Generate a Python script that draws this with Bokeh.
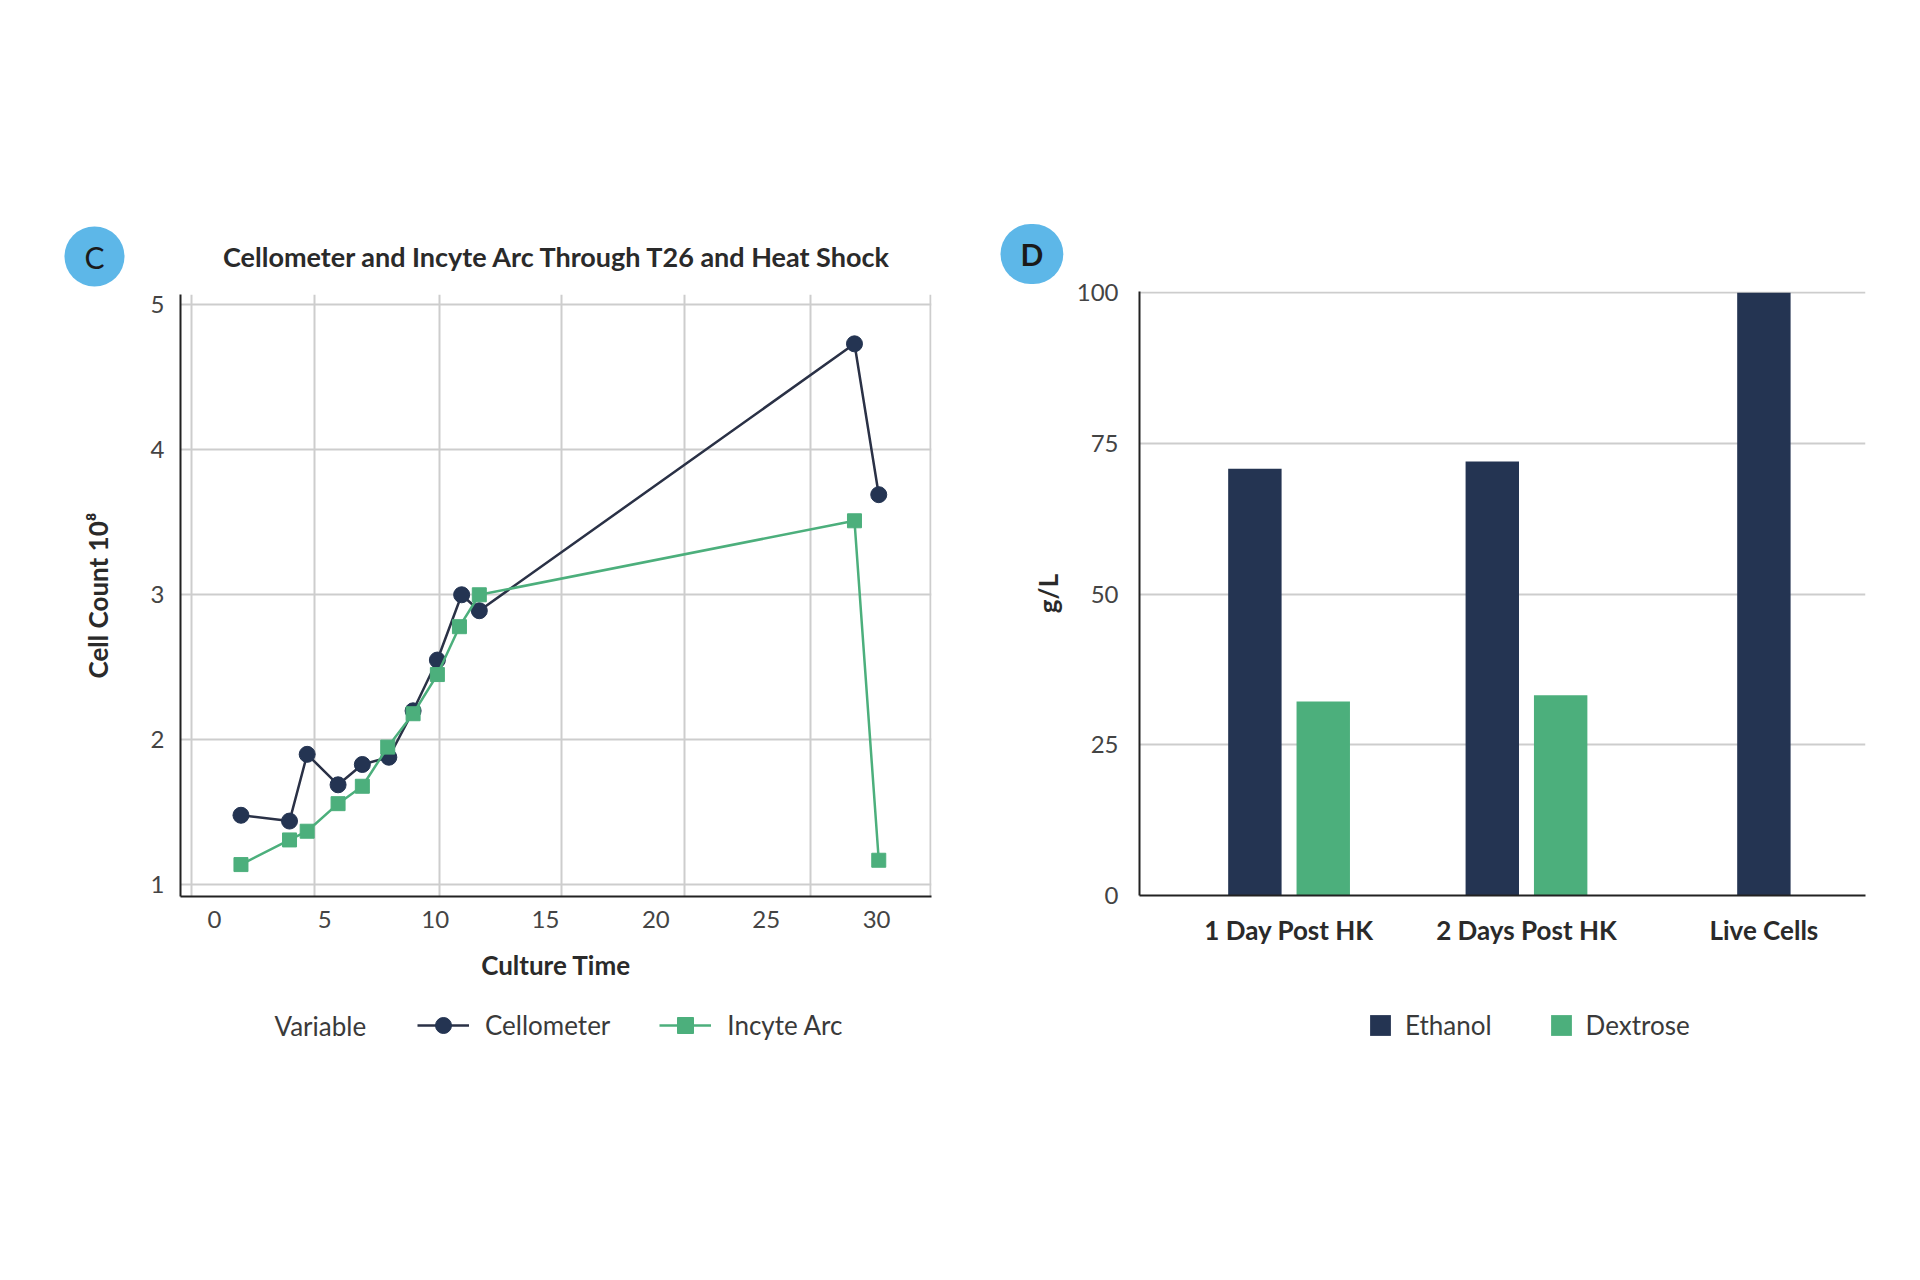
from bokeh.plotting import figure
from bokeh.layouts import row, column
from bokeh.models import FixedTicker, Label, Legend, LegendItem, Range1d, ColumnDataSource, Title
from bokeh.embed import file_html
from bokeh.resources import INLINE

FONT = "Lato"

# ---------------- Panel C data ----------------
time_cellometer = [1.2, 3.4, 4.2, 5.6, 6.7, 7.9, 9.0, 10.1, 11.2, 12.0, 29.0, 30.1]
count_cellometer = [1.48, 1.44, 1.90, 1.69, 1.83, 1.88, 2.20, 2.55, 3.00, 2.89, 4.73, 3.69]
time_incyte = [1.2, 3.4, 4.2, 5.6, 6.7, 7.85, 9.0, 10.1, 11.1, 12.0, 29.0, 30.1]
count_incyte = [1.14, 1.31, 1.37, 1.56, 1.68, 1.95, 2.18, 2.45, 2.78, 3.00, 3.51, 1.17]
x_ticks_c = [0, 5, 10, 15, 20, 25, 30]
y_ticks_c = [1, 2, 3, 4, 5]

# ---------------- Panel D data ----------------
categories = ["1 Day Post HK", "2 Days Post HK", "Live Cells"]
ethanol = [70.8, 72.0, 100.0]
dextrose = [32.2, 33.2, None]
y_ticks_d = [0, 25, 50, 75, 100]

NAVY = "#243452"
NAVY_LINE = "#2a3146"
GREEN = "#4caf7c"
GRID = "#cdcdcd"
AXIS = "#222222"
TXT = "#2a2a2a"
TICK = "#444444"
LEG = "#3a3a3a"
BADGE = "#5db7e8"
NAN = float("nan")

HALF = 960
HEADER_H = 288
FOOT_TOP = 996
FOOT_H = 1280 - FOOT_TOP


def style_axes(p):
    for ax in (p.xaxis, p.yaxis):
        ax.major_tick_in = 0
        ax.major_tick_out = 0
        ax.minor_tick_in = 0
        ax.minor_tick_out = 0
        ax.axis_line_color = AXIS
        ax.axis_line_width = 2
        ax.major_label_text_font = FONT
        ax.major_label_text_font_size = "24px"
        ax.major_label_text_color = TICK
        ax.axis_label_text_font = FONT
        ax.axis_label_text_font_size = "26px"
        ax.axis_label_text_font_style = "bold"
        ax.axis_label_text_color = TXT
    p.outline_line_color = None
    p.background_fill_color = "white"
    p.border_fill_color = "white"


def blank_figure(h):
    f = figure(width=HALF, height=h, output_backend="svg", toolbar_location=None,
               x_range=Range1d(0, HALF), y_range=Range1d(0, h),
               x_axis_type=None, y_axis_type=None, min_border=0)
    f.outline_line_color = None
    f.xgrid.visible = False
    f.ygrid.visible = False
    f.border_fill_color = "white"
    return f


BADGE_STYLE = dict(text_font=FONT, text_font_size="30px", text_color="#1a1a1a",
                   background_fill_color=BADGE, border_radius=30,
                   padding=dict(left=20, right=20, top=12, bottom=12))

# ================= Header of panel C (badge + title) =================
headC = blank_figure(HEADER_H)
headC.add_layout(Label(x=94, y=HEADER_H - 256, x_units="screen", y_units="screen", text="C",
                       text_align="center", text_baseline="middle", **BADGE_STYLE))
headC.add_layout(Label(x=557, y=HEADER_H - 256, x_units="screen", y_units="screen",
                       text="Cellometer and Incyte Arc Through T26 and Heat Shock",
                       text_font=FONT, text_font_size="27px", text_font_style="bold",
                       text_color=TXT, text_align="center", text_baseline="middle"))

# ================= Panel C =================
p1 = figure(width=HALF, height=FOOT_TOP - HEADER_H, output_backend="svg", toolbar_location=None,
            x_range=Range1d(-1.54, 32.49), y_range=Range1d(0.92, 5.07),
            min_border_left=180, min_border_right=29, min_border_top=294 - HEADER_H,
            min_border_bottom=FOOT_TOP - 896)
style_axes(p1)
p1.xaxis.ticker = FixedTicker(ticks=x_ticks_c)
p1.yaxis.ticker = FixedTicker(ticks=y_ticks_c)
p1.xaxis.major_label_standoff = 14
p1.yaxis.major_label_standoff = 16
p1.xaxis.axis_label = "Culture Time"
p1.yaxis.axis_label = "Cell Count 10\u2078"
p1.xaxis.axis_label_standoff = 18
p1.yaxis.axis_label_standoff = 34

p1.xgrid.ticker = FixedTicker(ticks=[-1.04, 4.53, 10.19, 15.72, 21.30, 27.0, 32.44])
p1.ygrid.ticker = FixedTicker(ticks=y_ticks_c)
for g in (p1.xgrid, p1.ygrid):
    g.grid_line_color = GRID
    g.grid_line_width = 2

src_c = ColumnDataSource(dict(x=time_cellometer, y=count_cellometer))
src_i = ColumnDataSource(dict(x=time_incyte, y=count_incyte))
LINE_C = dict(line_color=NAVY_LINE, line_width=2.5)
MARK_C = dict(marker="circle", size=16, fill_color=NAVY, line_color=NAVY)
LINE_I = dict(line_color=GREEN, line_width=2.5)
MARK_I = dict(marker="square", size=14, fill_color=GREEN, line_color=GREEN)
p1.line("x", "y", source=src_c, **LINE_C)
p1.scatter("x", "y", source=src_c, **MARK_C)
p1.line("x", "y", source=src_i, **LINE_I)
p1.scatter("x", "y", source=src_i, **MARK_I)

# ================= Footer of panel C (legend) =================
footC = blank_figure(FOOT_H)
kl1 = footC.line(x=[NAN], y=[NAN], **LINE_C)
ks1 = footC.scatter(x=[NAN], y=[NAN], **MARK_C)
kl2 = footC.line(x=[NAN], y=[NAN], **LINE_I)
ks2 = footC.scatter(x=[NAN], y=[NAN], **MARK_I)
footC.add_layout(Label(x=274, y=1280 - 1025, x_units="screen", y_units="screen", text="Variable",
                       text_font=FONT, text_font_size="26px", text_color=LEG,
                       text_align="left", text_baseline="middle"))
footC.add_layout(Legend(items=[LegendItem(label="Cellometer", renderers=[kl1, ks1]),
                               LegendItem(label="Incyte Arc", renderers=[kl2, ks2])],
                        location=(417, 1280 - 1045), orientation="horizontal",
                        glyph_width=52, glyph_height=40, label_standoff=16, spacing=49,
                        padding=0, margin=0, border_line_color=None, background_fill_alpha=0,
                        label_text_font=FONT, label_text_font_size="26px", label_text_color=LEG))

# ================= Panel D =================
OFF = 0.144
BW = 0.225
pos = list(range(len(categories)))
eth_x = [i - OFF if d is not None else i for i, d in zip(pos, dextrose)]
dex_x = [i + OFF for i, d in zip(pos, dextrose) if d is not None]
dex_v = [d for d in dextrose if d is not None]

p2 = figure(width=HALF, height=FOOT_TOP, output_backend="svg", toolbar_location=None,
            x_range=Range1d(-0.630, 2.428), y_range=Range1d(0, 100.2),
            min_border_left=179, min_border_right=55, min_border_top=291,
            min_border_bottom=FOOT_TOP - 895)
p2.title = Title(text="D", align="left", offset=-139, standoff=15, **BADGE_STYLE)
style_axes(p2)
p2.xaxis.ticker = FixedTicker(ticks=pos)
p2.xaxis.major_label_overrides = {i: c for i, c in zip(pos, categories)}
p2.xaxis.major_label_text_font_style = "bold"
p2.xaxis.major_label_text_font_size = "26px"
p2.xaxis.major_label_text_color = TXT
p2.xaxis.major_label_standoff = 18
p2.yaxis.ticker = FixedTicker(ticks=y_ticks_d)
p2.yaxis.major_label_standoff = 21
p2.yaxis.axis_label = "g/L"
p2.yaxis.axis_label_standoff = 10
p2.xgrid.visible = False
p2.ygrid.ticker = FixedTicker(ticks=y_ticks_d)
p2.ygrid.grid_line_color = GRID
p2.ygrid.grid_line_width = 2

src_e = ColumnDataSource(dict(x=eth_x, top=ethanol))
src_d = ColumnDataSource(dict(x=dex_x, top=dex_v))
BAR_E = dict(fill_color=NAVY, line_color=None)
BAR_D = dict(fill_color=GREEN, line_color=None)
p2.vbar(x="x", top="top", bottom=0, width=BW, source=src_e, **BAR_E)
p2.vbar(x="x", top="top", bottom=0, width=BW, source=src_d, **BAR_D)

# ================= Footer of panel D (legend) =================
footD = blank_figure(FOOT_H)
kb1 = footD.vbar(x=[NAN], top=[NAN], width=1, **BAR_E)
kb2 = footD.vbar(x=[NAN], top=[NAN], width=1, **BAR_D)
footD.add_layout(Legend(items=[LegendItem(label="Ethanol", renderers=[kb1]),
                               LegendItem(label="Dextrose", renderers=[kb2])],
                        location=(1367 - HALF, 1280 - 1041), orientation="horizontal",
                        glyph_width=26, glyph_height=26, label_standoff=12, spacing=56,
                        padding=0, margin=0, border_line_color=None, background_fill_alpha=0,
                        label_text_font=FONT, label_text_font_size="26px", label_text_color=LEG))

# the header/footer figures are wrapped in rows so that their frames are not aligned to the charts
left = column(row(headC), p1, row(footC), spacing=0)
right = column(p2, row(footD), spacing=0)
layout = row(left, right, spacing=0)
open("out.html", "w").write(file_html(layout, INLINE))
